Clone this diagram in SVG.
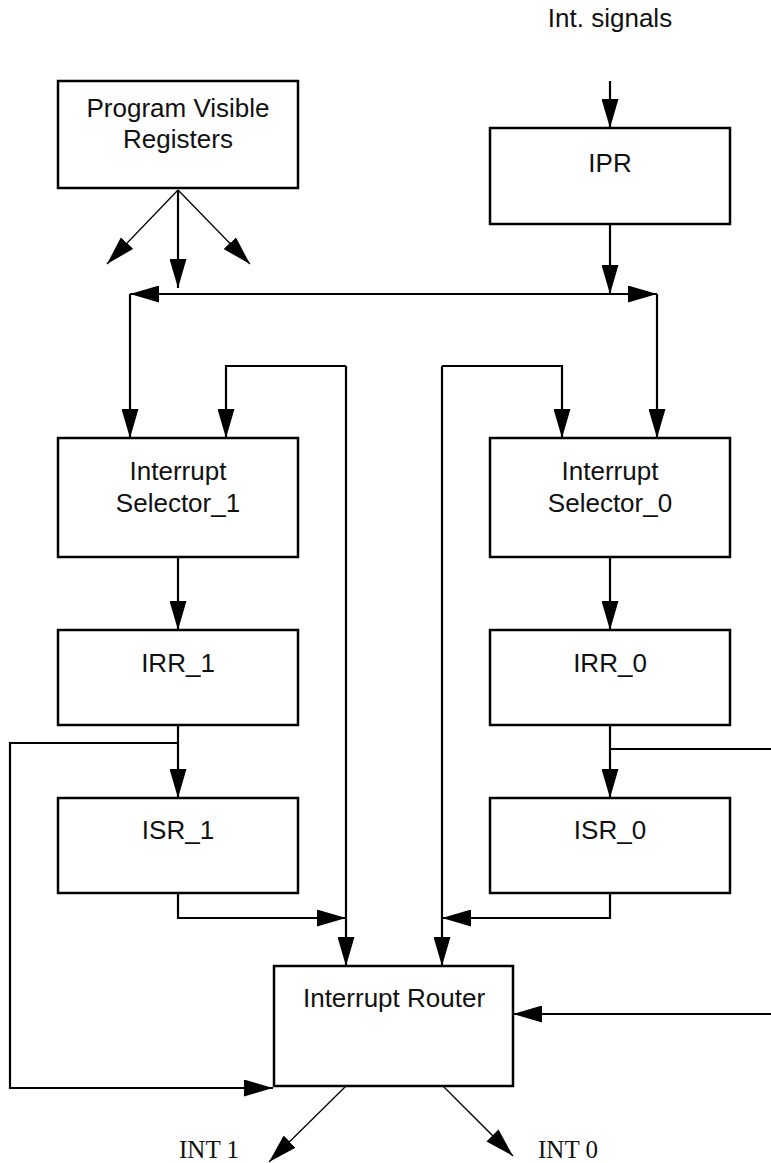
<svg xmlns="http://www.w3.org/2000/svg" width="771" height="1163" viewBox="0 0 771 1163">
<style>
.box{fill:#fff;stroke:#000;stroke-width:2.5}
.t{font-family:"Liberation Sans",Arial,sans-serif;font-size:26px;fill:#111;text-anchor:middle}
.tt{font-family:"Liberation Serif","Times New Roman",serif;font-size:25px;fill:#111}
.c{fill:none;stroke:#000;stroke-width:2.2}
.d{fill:none;stroke:#000;stroke-width:1.3}
.a{marker-end:url(#ah)}
</style>
<defs>
<marker id="ah" viewBox="0 0 29 17" refX="29" refY="8.5" markerWidth="29" markerHeight="17" markerUnits="userSpaceOnUse" orient="auto-start-reverse">
<path d="M0,0 L29,8.5 L0,17 z" fill="#000"/>
</marker>
</defs>
<rect width="771" height="1163" fill="#fff"/>
<g id="connectors">
<path class="d a" d="M178,190 L107,264"/>
<path class="c a" d="M178,190 L178,288"/>
<path class="d a" d="M178,190 L250,264"/>
<path class="c a" d="M610,81 L610,128"/>
<path class="c a" d="M610,224 L610,294"/>
<path class="c" d="M130,294 L657,294" marker-start="url(#ah)" marker-end="url(#ah)"/>
<path class="c a" d="M130,294 L130,438"/>
<path class="c a" d="M657,294 L657,438"/>
<path class="c a" d="M346,366 L226,366 L226,438"/>
<path class="c a" d="M346,366 L346,966"/>
<path class="c a" d="M442,366 L562,366 L562,438"/>
<path class="c a" d="M442,366 L442,966"/>
<path class="c a" d="M178,557 L178,630"/>
<path class="c a" d="M610,557 L610,630"/>
<path class="c a" d="M178,725 L178,798"/>
<path class="c a" d="M178,743 L10,743 L10,1088 L273,1088"/>
<path class="c a" d="M610,725 L610,798"/>
<path class="c" d="M610,749 L771,749"/>
<path class="c a" d="M178,893 L178,918 L346,918"/>
<path class="c a" d="M610,893 L610,918 L442,918"/>
<path class="c a" d="M771,1014 L513,1014"/>
<path class="d a" d="M346,1086 L269,1162"/>
<path class="d a" d="M443,1086 L513,1156"/>
</g>
<g id="int-signals"><text class="t" x="610" y="27">Int. signals</text></g>
<g id="pvr">
<rect class="box" x="58" y="81" width="240" height="107"/>
<text class="t" x="178" y="117">Program Visible</text>
<text class="t" x="178" y="148">Registers</text>
</g>
<g id="ipr">
<rect class="box" x="490" y="128" width="240" height="96"/>
<text class="t" x="610" y="172">IPR</text>
</g>
<g id="sel1">
<rect class="box" x="58" y="438" width="240" height="119"/>
<text class="t" x="178" y="480">Interrupt</text>
<text class="t" x="178" y="512">Selector_1</text>
</g>
<g id="sel0">
<rect class="box" x="490" y="438" width="240" height="119"/>
<text class="t" x="610" y="480">Interrupt</text>
<text class="t" x="610" y="512">Selector_0</text>
</g>
<g id="irr1">
<rect class="box" x="58" y="630" width="240" height="95"/>
<text class="t" x="178" y="672">IRR_1</text>
</g>
<g id="irr0">
<rect class="box" x="490" y="630" width="240" height="95"/>
<text class="t" x="610" y="672">IRR_0</text>
</g>
<g id="isr1">
<rect class="box" x="58" y="798" width="240" height="95"/>
<text class="t" x="178" y="839">ISR_1</text>
</g>
<g id="isr0">
<rect class="box" x="490" y="798" width="240" height="95"/>
<text class="t" x="610" y="839">ISR_0</text>
</g>
<g id="router">
<rect class="box" x="274" y="966" width="239" height="120"/>
<text class="t" x="394" y="1007">Interrupt Router</text>
</g>
<g id="int1"><text class="tt" x="179" y="1158">INT 1</text></g>
<g id="int0"><text class="tt" x="538" y="1158">INT 0</text></g>
</svg>
